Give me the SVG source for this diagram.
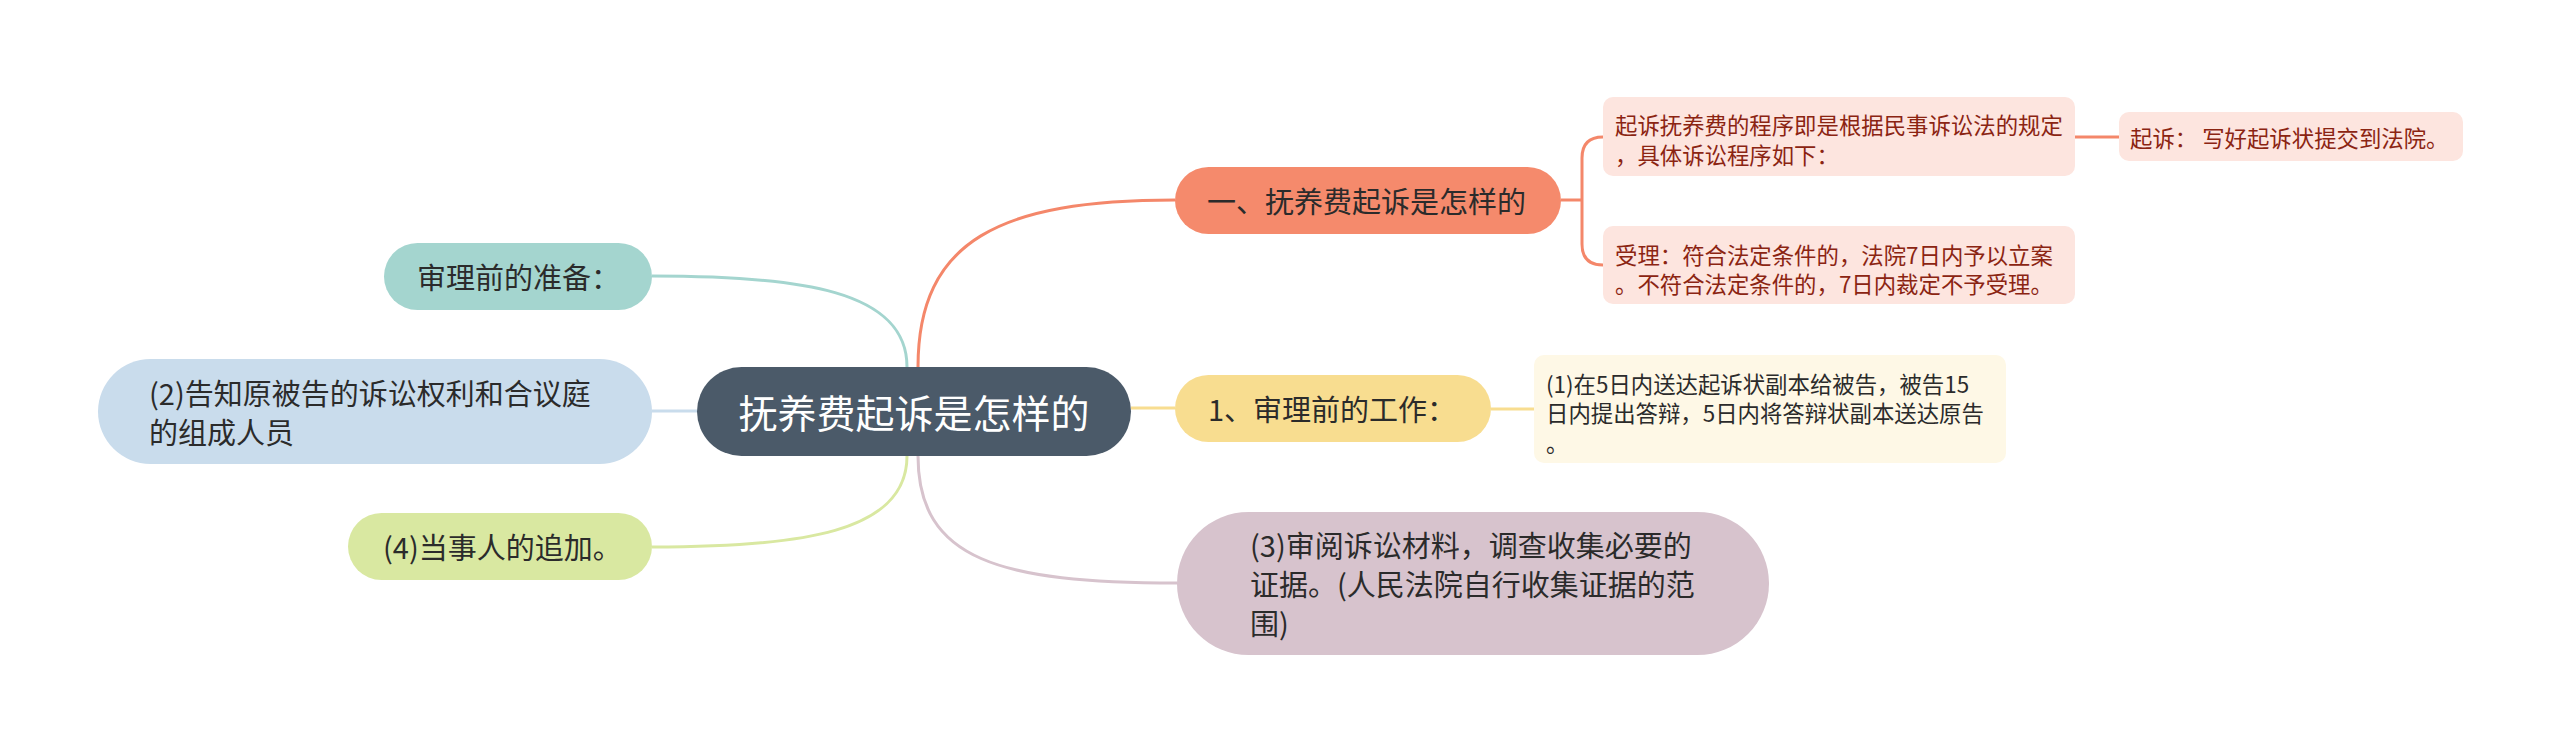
<svg xmlns="http://www.w3.org/2000/svg" width="2560" height="753" viewBox="0 0 2560 753">
<style>
text{font-family:"Noto Sans CJK SC","Noto Sans",sans-serif;dominant-baseline:central}
.l1{font-size:29px;fill:#2b2b2b}
.leaf{font-size:22.4px}
.red{fill:#8b2412}
.dark{fill:#2b2b2b}
.c{fill:none;stroke-width:3}
</style>
<rect width="2560" height="753" fill="#ffffff"/>
<g id="connectors">
<path class="c" stroke="#a4d5cf" d="M652 276 C800 276 907 290 907 367"/>
<path class="c" stroke="#c9dcec" d="M652 411 L697 411"/>
<path class="c" stroke="#d9e8a1" d="M652 547 C800 547 907 533 907 456"/>
<path class="c" stroke="#f4876a" d="M918 367 C918 240 1000 200 1175 200"/>
<path class="c" stroke="#d7c3cd" d="M918 456 C918 560 1000 583 1177 583"/>
<path class="c" stroke="#f8dd90" d="M1131 408 L1175 408"/>
<path class="c" stroke="#f4876a" d="M1561 200 L1582 200 M1603 137 Q1582 137 1582 158 L1582 244 Q1582 265 1603 265"/>
<path class="c" stroke="#f4876a" d="M2075 137 L2119 137"/>
<path class="c" stroke="#f8dd90" d="M1491 409 L1534 409"/>
</g>
<g id="center">
<rect x="697" y="367" width="434" height="89" rx="44.5" fill="#4b5a69"/>
<text x="914" y="411" font-size="39" fill="#ffffff" text-anchor="middle">抚养费起诉是怎样的</text>
</g>
<g id="n-prep">
<rect x="384" y="243" width="268" height="67" rx="33.5" fill="#a4d5cf"/>
<text class="l1" x="417" y="276">审理前的准备：</text>
</g>
<g id="n-inform">
<rect x="98" y="359" width="554" height="105" rx="52.5" fill="#c9dcec"/>
<text class="l1" x="149" y="392">(2)告知原被告的诉讼权利和合议庭</text>
<text class="l1" x="149" y="431">的组成人员</text>
</g>
<g id="n-add">
<rect x="348" y="513" width="304" height="67" rx="33.5" fill="#d9e8a1"/>
<text class="l1" x="383" y="546">(4)当事人的追加。</text>
</g>
<g id="n-how">
<rect x="1175" y="167" width="386" height="67" rx="33.5" fill="#f58a6c"/>
<text class="l1" x="1207" y="200">一、抚养费起诉是怎样的</text>
</g>
<g id="n-work">
<rect x="1175" y="375" width="316" height="67" rx="33.5" fill="#f8dd90"/>
<text class="l1" x="1208" y="408">1、审理前的工作：</text>
</g>
<g id="n-review">
<rect x="1177" y="512" width="592" height="143" rx="71.5" fill="#d7c3cd"/>
<text class="l1" x="1250" y="544">(3)审阅诉讼材料，调查收集必要的</text>
<text class="l1" x="1250" y="583">证据。(人民法院自行收集证据的范</text>
<text class="l1" x="1250" y="622">围)</text>
</g>
<g id="leaf-procedure">
<rect x="1603" y="97" width="472" height="79" rx="10" fill="#fde5df"/>
<text class="leaf red" x="1615" y="124">起诉抚养费的程序即是根据民事诉讼法的规定</text>
<text class="leaf red" x="1615" y="154">，具体诉讼程序如下：</text>
</g>
<g id="leaf-accept">
<rect x="1603" y="226" width="472" height="78" rx="10" fill="#fde5df"/>
<text class="leaf red" x="1615" y="254">受理：符合法定条件的，法院7日内予以立案</text>
<text class="leaf red" x="1615" y="283">。不符合法定条件的，7日内裁定不予受理。</text>
</g>
<g id="leaf-sue">
<rect x="2119" y="112" width="344" height="49" rx="10" fill="#fde5df"/>
<text class="leaf red" x="2130" y="137">起诉： 写好起诉状提交到法院。</text>
</g>
<g id="leaf-deliver">
<rect x="1534" y="355" width="472" height="108" rx="10" fill="#fef8e6"/>
<text class="leaf dark" x="1546" y="383">(1)在5日内送达起诉状副本给被告，被告15</text>
<text class="leaf dark" x="1546" y="412">日内提出答辩，5日内将答辩状副本送达原告</text>
<text class="leaf dark" x="1546" y="442">。</text>
</g>
</svg>
